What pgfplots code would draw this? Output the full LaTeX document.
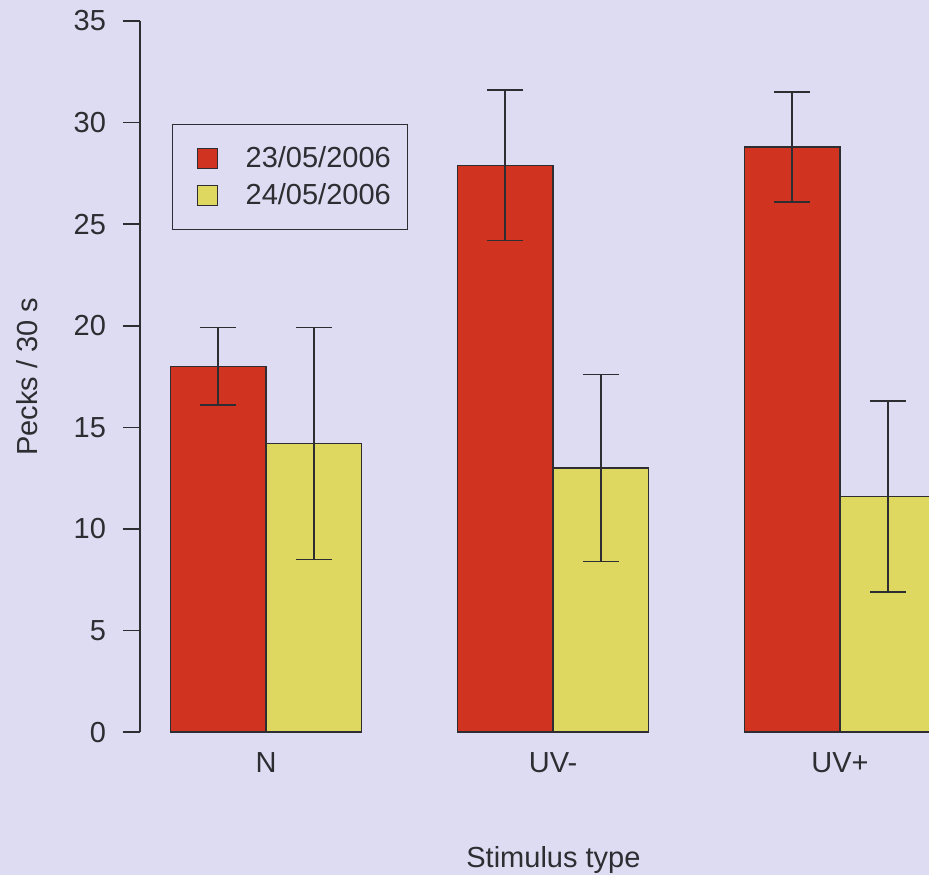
\documentclass[border=0pt]{standalone}
\usepackage{pgfplots}
\pgfplotsset{compat=1.18}
\usepackage{fontspec}
\setmainfont{Liberation Sans}

\definecolor{bg}{RGB}{222,220,242}
\definecolor{barred}{RGB}{208,52,32}
\definecolor{baryellow}{RGB}{222,216,96}
\definecolor{ink}{RGB}{45,45,50}

% bar centres: group g at x=3g, first date at 3g-0.5, second at 3g+0.5
\pgfplotstableread{
x    y     err
2.5  18.0  1.9
5.5  27.9  3.7
8.5  28.8  2.7
}\dayone
\pgfplotstableread{
x    y     err
3.5  14.2  5.7
6.5  13.0  4.6
9.5  11.6  4.7
}\daytwo

\begin{document}
\begin{tikzpicture}[x=1pt,y=1pt]
\useasboundingbox[fill=bg] (-70,-71.5) rectangle (394.5,366);
\begin{axis}[
  at={(0,0)}, anchor=south west,
  scale only axis,
  width=394.5pt, height=355.5pt,
  xmin=1.683, xmax=9.93,
  ymin=0, ymax=35,
  axis y line*=left,
  axis x line*=bottom,
  x axis line style={draw=none},
  y axis line style={ink, line width=0.8pt},
  xtick={3,6,9},
  xticklabels={N,UV-,UV+},
  major x tick style={draw=none},
  ytick={0,5,...,35},
  tick align=outside,
  major tick length=8.5pt,
  major y tick style={ink, line width=0.8pt},
  font=\fontsize{14.5}{17}\selectfont,
  tick label style={text=ink},
  /pgf/number format/assume math mode=true,
  yticklabel style={xshift=-5pt},
  xticklabel style={yshift=2pt},
  ylabel={Pecks / 30 s},
  ylabel style={at={(axis description cs:-0.143,0.5)}, anchor=center, text=ink},
  xlabel={Stimulus type},
  xlabel style={at={(axis description cs:0.524,-0.18)}, anchor=center, text=ink},
  ybar, bar width=1, bar shift=0pt,
  clip=true,
  legend style={at={(axis description cs:0.0406,0.855)}, anchor=north west,
    draw=ink, line width=0.6pt, fill=none,
    inner xsep=6pt, inner ysep=8.5pt, row sep=1.5pt,
    font=\fontsize{14.5}{17}\selectfont, text=ink,
    nodes={inner sep=2.5pt}},
  legend cell align=left,
  legend image code/.code={%
    \path[draw=none,fill=none] (0pt,0pt) -- (28pt,0pt);
    \draw[#1,line width=0.6pt] (6.5pt,-5pt) rectangle (16.5pt,5pt);},
]
\addplot[fill=barred, draw=ink, line width=0.6pt,
  error bars/.cd, y dir=both, y explicit,
  error bar style={ink, line width=0.7pt}, error mark options={rotate=90, mark size=9pt, ink, line width=0.7pt}]
  table[x=x, y=y, y error=err] {\dayone};
\addlegendentry{23/05/2006}
\addplot[fill=baryellow, draw=ink, line width=0.6pt,
  error bars/.cd, y dir=both, y explicit,
  error bar style={ink, line width=0.7pt}, error mark options={rotate=90, mark size=9pt, ink, line width=0.7pt}]
  table[x=x, y=y, y error=err] {\daytwo};
\addlegendentry{24/05/2006}
\end{axis}
\end{tikzpicture}
\end{document}
